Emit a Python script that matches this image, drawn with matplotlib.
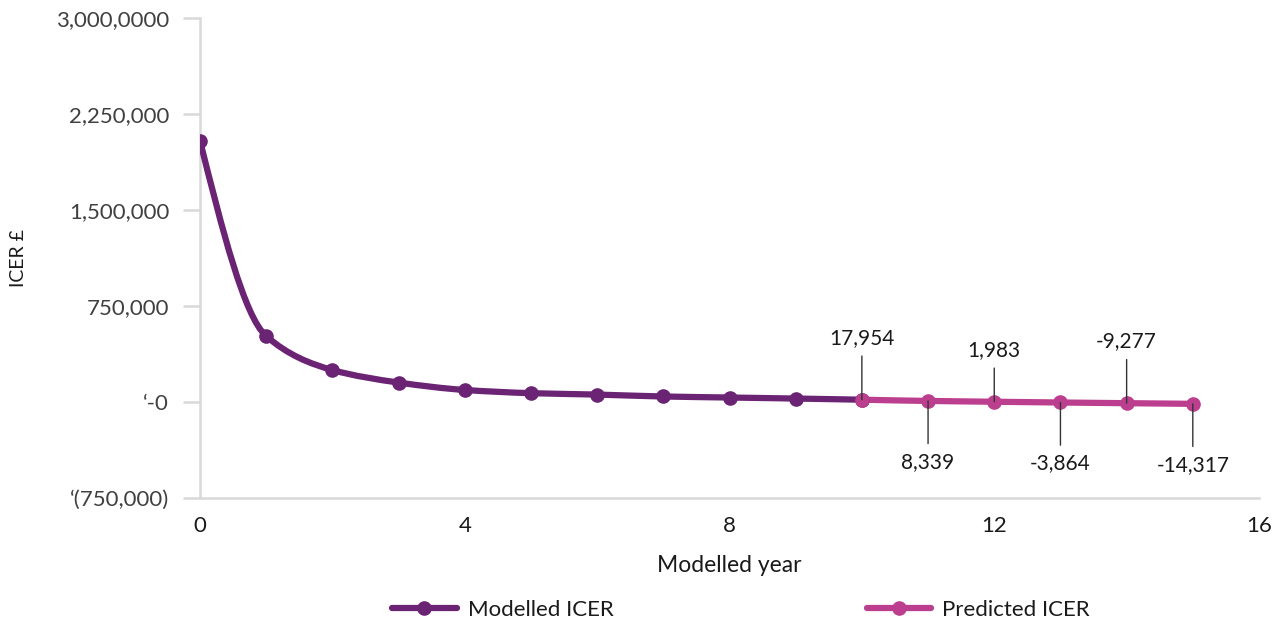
import matplotlib.pyplot as plt
import numpy as np
from matplotlib.path import Path
from matplotlib.patches import PathPatch
from matplotlib.lines import Line2D

# data
modelled_years = [0, 1, 2, 3, 4, 5, 6, 7, 8, 9, 10]
modelled_icer = [2041000, 515000, 250000, 152000, 94000, 69000, 58000,
                 43000, 35000, 27000, 17954]
predicted_years = [10, 11, 12, 13, 14, 15]
predicted_icer = [17954, 8339, 1983, -3864, -9277, -14317]
predicted_labels = ['17,954', '8,339', '1,983', '-3,864', '-9,277', '-14,317']

ytick_values = [-750000, 0, 750000, 1500000, 2250000, 3000000]
ytick_labels = ["\u2018(750,000)", "\u2018-0", '750,000', '1,500,000',
                '2,250,000', '3,000,0000']
xtick_values = [0, 4, 8, 12, 16]

PURPLE = '#6b2374'
MAGENTA = '#bc3e8f'
GRID = '#d9d9d9'

plt.rcParams['font.family'] = ['Lato', 'DejaVu Sans']


def smooth_path(xs, ys):
    """Smoothed line through the points, drawn as cubic Bezier segments
    with monotone (PCHIP-like) tangents."""
    x = np.asarray(xs, float)
    y = np.asarray(ys, float)
    h = np.diff(x)
    d = np.diff(y) / h
    m = np.zeros_like(y)
    m[0], m[-1] = d[0], d[-1]
    for i in range(1, len(x) - 1):
        if d[i - 1] * d[i] > 0:
            m[i] = 2 / (1 / d[i - 1] + 1 / d[i])
    m[0] = (3 * d[0] - m[1]) / 2 if len(x) > 2 else d[0]
    verts = [(x[0], y[0])]
    codes = [Path.MOVETO]
    for i in range(len(x) - 1):
        verts += [(x[i] + h[i] / 3, y[i] + m[i] * h[i] / 3),
                  (x[i + 1] - h[i] / 3, y[i + 1] - m[i + 1] * h[i] / 3),
                  (x[i + 1], y[i + 1])]
        codes += [Path.CURVE4] * 3
    return Path(verts, codes)


fig = plt.figure(figsize=(12.8, 6.23), dpi=100)
ax = fig.add_axes([200 / 1280, 125 / 623, 1059 / 1280, 480 / 623])

for xs, ys, color in [(modelled_years, modelled_icer, PURPLE),
                      (predicted_years, predicted_icer, MAGENTA)]:
    ax.add_patch(PathPatch(smooth_path(xs, ys), facecolor='none', edgecolor=color,
                           lw=4.5, capstyle='round', zorder=3))
    ax.plot(xs, ys, linestyle='none', marker='o', ms=9.5, color=color, zorder=4)

# data labels with leader lines, alternating above / below
for i, (x, y, lab) in enumerate(zip(predicted_years, predicted_icer, predicted_labels)):
    off = 62 if i % 2 == 0 else -61
    if i == 2:
        off = 52
    ax.annotate(lab, xy=(x, y), xytext=(0, off), textcoords='offset pixels',
                ha='center', va='center', fontsize=15, color='#1a1a1a',
                arrowprops=dict(arrowstyle='-', color='#333333', lw=1,
                                shrinkA=4, shrinkB=0), zorder=5)

ax.set_xlim(0, 16)
ax.set_ylim(-750000, 3000000)
ax.set_xticks(xtick_values)
ax.set_yticks(ytick_values)
ax.set_yticklabels(ytick_labels)

for side in ['top', 'right']:
    ax.spines[side].set_visible(False)
for side in ['left', 'bottom']:
    ax.spines[side].set_color(GRID)
    ax.spines[side].set_linewidth(1.8)

ax.tick_params(axis='y', length=12.2, width=1.8, color=GRID, pad=10,
               labelsize=16, labelcolor='#404040')
ax.tick_params(axis='x', length=0, pad=13, labelsize=16, labelcolor='#1a1a1a')

ax.set_xlabel('Modelled year', fontsize=16.5, color='#1a1a1a', labelpad=14)
ax.set_ylabel('ICER \u00a3', fontsize=14, color='#1a1a1a')
ax.yaxis.set_label_coords(-0.163, 0.5)

handles = [Line2D([], [], color=PURPLE, lw=4.5, marker='o', ms=9.5, solid_capstyle='round'),
           Line2D([], [], color=MAGENTA, lw=4.5, marker='o', ms=9.5, solid_capstyle='round')]
fig.legend(handles, ['Modelled ICER', 'Predicted ICER'], loc='center',
           bbox_to_anchor=(741 / 1280, 13 / 623), ncol=2, frameon=False,
           fontsize=16, handlelength=2.9, handletextpad=0.5, columnspacing=11.4,
           labelcolor='#1a1a1a')

fig.savefig('out.png', dpi=100)
